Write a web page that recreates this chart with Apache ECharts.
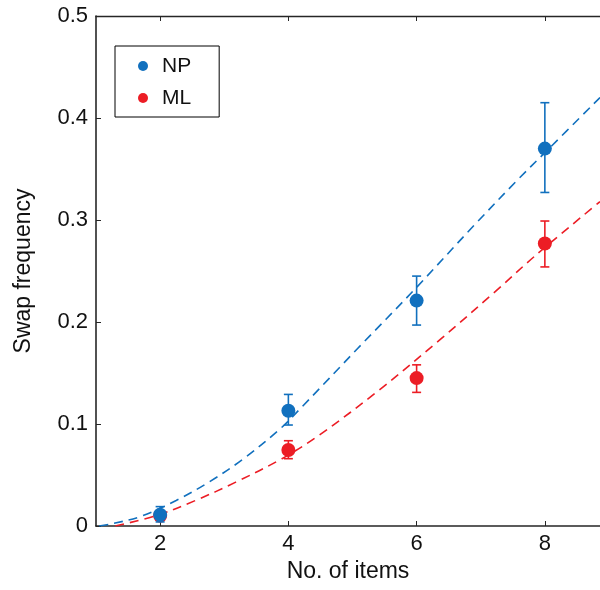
<!DOCTYPE html>
<html>
<head>
<meta charset="utf-8">
<script src="https://cdn.jsdelivr.net/npm/echarts@6/dist/echarts.min.js"></script>
<style>
html,body{margin:0;padding:0;background:#fff;}
#chart{width:600px;height:590px;}
</style>
</head>
<body>
<div id="chart"></div>
<script>
// ---- data ----
const xValues = [2, 4, 6, 8];
const xTicks = [2, 4, 6, 8];
const yTicks = [0, 0.1, 0.2, 0.3, 0.4, 0.5];

const npMean = [0.011, 0.113, 0.221, 0.370];
const npLow  = [0.004, 0.099, 0.197, 0.327];
const npHigh = [0.019, 0.129, 0.245, 0.415];

const mlMean = [0.010, 0.0745, 0.145, 0.277];
const mlLow  = [0.006, 0.066, 0.131, 0.254];
const mlHigh = [0.014, 0.0836, 0.158, 0.299];

// fitted curves
const npFitX = [1.05, 1.23, 1.68, 2.25, 2.76, 3.28, 3.85, 4.2, 5.08, 5.97, 6.9, 7.57, 8.0, 8.86];
const npFitY = [0.0, 0.002, 0.009, 0.025, 0.043, 0.065, 0.094, 0.116, 0.174, 0.232, 0.295, 0.339, 0.366, 0.42];
const mlFitX = [1.3, 1.93, 2.55, 3.18, 3.9, 4.48, 5.43, 6.37, 7.23, 7.85, 8.86];
const mlFitY = [0.0, 0.010, 0.025, 0.043, 0.066, 0.089, 0.134, 0.183, 0.230, 0.265, 0.318];

const blue = '#1170be';
const red = '#ec1d25';
const axisColor = '#262626';
const font = 'Liberation Sans, Arial, sans-serif';

function zip(a, b) { return a.map((v, i) => [v, b[i]]); }
function errData(lo, hi) { return xValues.map((x, i) => [x, lo[i], hi[i]]); }

function errRender(color) {
  return function (params, api) {
    const x = api.value(0);
    const pLo = api.coord([x, api.value(1)]);
    const pHi = api.coord([x, api.value(2)]);
    const hw = 4.5;
    const st = { stroke: color, lineWidth: 1.6 };
    return {
      type: 'group',
      children: [
        { type: 'line', shape: { x1: pLo[0], y1: pLo[1], x2: pHi[0], y2: pHi[1] }, style: st },
        { type: 'line', shape: { x1: pHi[0] - hw, y1: pHi[1], x2: pHi[0] + hw, y2: pHi[1] }, style: st },
        { type: 'line', shape: { x1: pLo[0] - hw, y1: pLo[1], x2: pLo[0] + hw, y2: pLo[1] }, style: st }
      ]
    };
  };
}

const chart = echarts.init(document.getElementById('chart'), null, { renderer: 'canvas' });
const option = {
  animation: false,
  backgroundColor: '#fff',
  grid: { left: 96, right: 0, top: 16, bottom: 64, containLabel: false },
  legend: {
    data: ['NP', 'ML'],
    orient: 'vertical',
    left: 115,
    top: 46,
    padding: [9, 28, 8, 23],
    itemGap: 10,
    itemWidth: 10,
    itemHeight: 10,
    icon: 'circle',
    borderColor: '#000',
    borderWidth: 1,
    backgroundColor: '#fff',
    textStyle: { fontFamily: font, fontSize: 21, color: '#111', lineHeight: 22, padding: [0, 0, 0, 9] }
  },
  xAxis: [{
    type: 'value',
    min: 1,
    max: 8.86,
    name: 'No. of items',
    nameLocation: 'middle',
    nameGap: 34,
    nameTextStyle: { fontFamily: font, fontSize: 23, color: '#111' },
    axisLine: { show: true, onZero: false, lineStyle: { color: axisColor, width: 1.6 } },
    axisTick: { show: true, inside: true, length: 5, customValues: xTicks, lineStyle: { color: axisColor } },
    axisLabel: { customValues: xTicks, fontFamily: font, fontSize: 22, color: '#111', margin: 7 },
    splitLine: { show: false }
  }, {
    type: 'value',
    position: 'top',
    min: 1,
    max: 8.86,
    axisLine: { show: true, onZero: false, lineStyle: { color: axisColor, width: 1.4 } },
    axisTick: { show: true, inside: true, length: 5, customValues: xTicks, lineStyle: { color: axisColor } },
    axisLabel: { show: false },
    splitLine: { show: false }
  }],
  yAxis: [{
    type: 'value',
    min: 0,
    max: 0.5,
    interval: 0.1,
    name: 'Swap frequency',
    nameLocation: 'middle',
    nameGap: 61,
    nameTextStyle: { fontFamily: font, fontSize: 23, color: '#111' },
    axisLine: { show: true, onZero: false, lineStyle: { color: axisColor, width: 1.6 } },
    axisTick: { show: true, inside: true, length: 5, lineStyle: { color: axisColor } },
    axisLabel: {
      fontFamily: font, fontSize: 22, color: '#111', margin: 8,
      formatter: v => String(+v.toFixed(1))
    },
    splitLine: { show: false }
  }],
  series: [
    {
      name: 'ML fit', type: 'line', smooth: 0.35, showSymbol: false, silent: true,
      data: zip(mlFitX, mlFitY),
      lineStyle: { color: red, width: 1.6, type: [9, 6] }, z: 2
    },
    {
      name: 'NP fit', type: 'line', smooth: 0.35, showSymbol: false, silent: true,
      data: zip(npFitX, npFitY),
      lineStyle: { color: blue, width: 1.6, type: [9, 6] }, z: 2
    },
    {
      name: 'ML err', type: 'custom', renderItem: errRender(red),
      data: errData(mlLow, mlHigh), encode: { x: 0, y: [1, 2] }, z: 3
    },
    {
      name: 'ML', type: 'scatter', symbol: 'circle', symbolSize: 14,
      data: zip(xValues, mlMean), itemStyle: { color: red, opacity: 1 }, z: 4
    },
    {
      name: 'NP err', type: 'custom', renderItem: errRender(blue),
      data: errData(npLow, npHigh), encode: { x: 0, y: [1, 2] }, z: 5
    },
    {
      name: 'NP', type: 'scatter', symbol: 'circle', symbolSize: 14,
      data: zip(xValues, npMean), itemStyle: { color: blue, opacity: 1 }, z: 6
    }
  ]
};
chart.setOption(option);
</script>
</body>
</html>
